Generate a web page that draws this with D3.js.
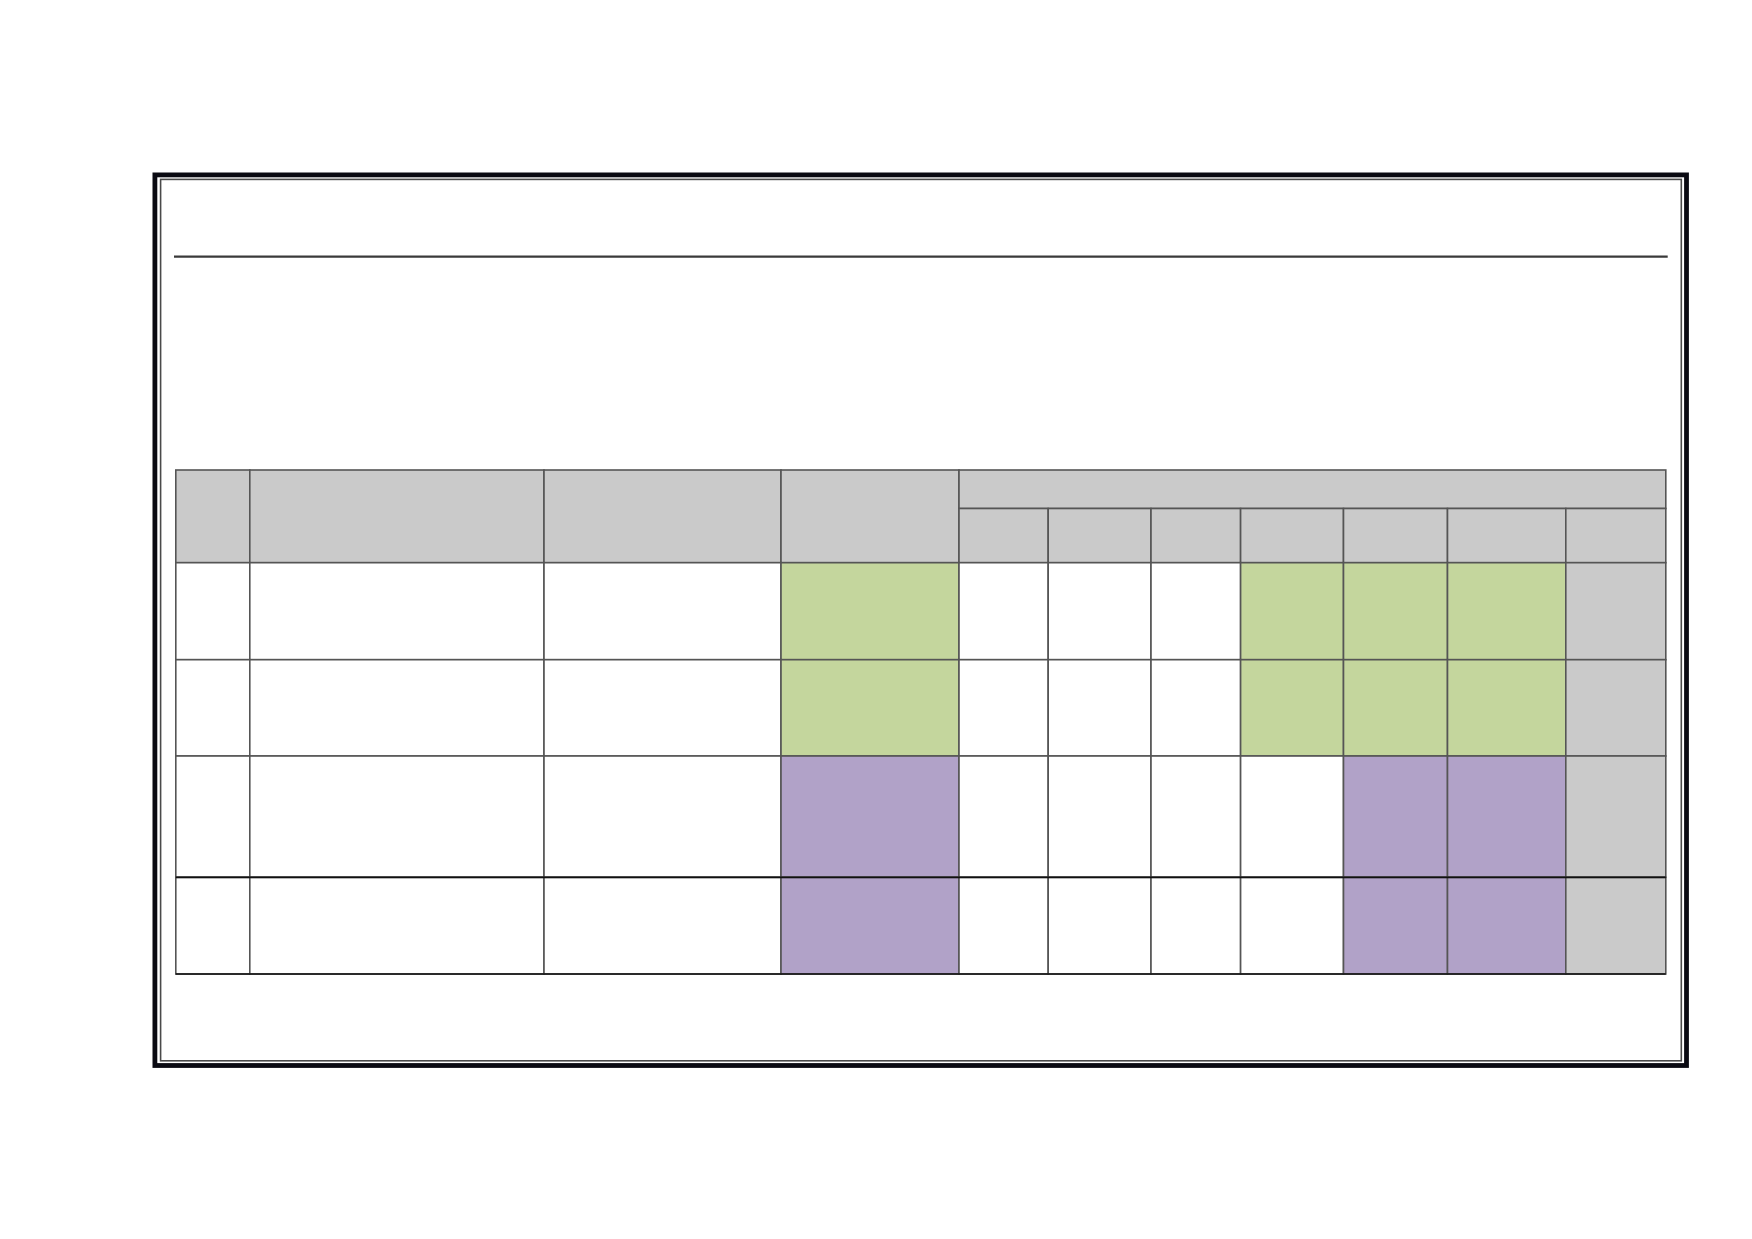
<!DOCTYPE html>
<html>
<head>
<meta charset="utf-8">
<script src="https://cdn.jsdelivr.net/npm/d3@7"></script>
<style>
  html, body { margin: 0; padding: 0; background: #fff; }
  svg { display: block; }
</style>
</head>
<body>
<div id="chart"></div>
<script>
// data: table with 4 body rows; 4 fixed columns + 7 grouped columns, no text
const rowKeys = ["r1", "r2", "r3", "r4"];
const fixedKeys = ["no", "item", "desc", "status"];
const groupKeys = ["g1", "g2", "g3", "g4", "g5", "g6", "g7"];

// cell state per row: status column, then the 7 grouped columns
// "G" green, "P" purple, "N" grey, "" blank
const statusCol = ["G", "G", "P", "P"];
const groupCells = [
  ["", "", "", "G", "G", "G", "N"],
  ["", "", "", "G", "G", "G", "N"],
  ["", "", "", "", "P", "P", "N"],
  ["", "", "", "", "P", "P", "N"]
];

// layout
const width = 1752, height = 1239;
const colKeys = fixedKeys.concat(groupKeys);
const colEdges = [175.8, 249.8, 544, 781, 959, 1048.2, 1151, 1240.6, 1343.5, 1447.5, 1565.8, 1665.8];
const rowEdges = [659.7, 756, 877.3, 974];
const headTop = 470, headMid = 508.5, headBottom = 562.7;

const x0 = d3.scaleOrdinal().domain(colKeys).range(colEdges.slice(0, -1));
const x1 = d3.scaleOrdinal().domain(colKeys).range(colEdges.slice(1));
const y0 = d3.scaleOrdinal().domain(rowKeys).range([headBottom].concat(rowEdges.slice(0, -1)));
const y1 = d3.scaleOrdinal().domain(rowKeys).range(rowEdges);

const fill = d3.scaleOrdinal()
  .domain(["G", "P", "N", ""])
  .range(["#c4d69d", "#b1a2c8", "#cacaca", "#ffffff"]);

const svg = d3.select("#chart")
  .append("svg")
  .attr("width", width)
  .attr("height", height);

//frame
svg.append("rect")
  .attr("x", 154.9).attr("y", 174.9)
  .attr("width", 1686.5 - 154.9).attr("height", 1065.5 - 174.9)
  .attr("fill", "none").attr("stroke", "#0a0a12").attr("stroke-width", 4.8);
svg.append("rect")
  .attr("x", 160.6).attr("y", 179.4)
  .attr("width", 1681.3 - 160.6).attr("height", 1060.8 - 179.4)
  .attr("fill", "none").attr("stroke", "#4a4a4a").attr("stroke-width", 1.6);

//rule under the (empty) title
svg.append("line")
  .attr("x1", 174).attr("x2", 1667.7)
  .attr("y1", 256.7).attr("y2", 256.7)
  .attr("stroke", "#3a3a3a").attr("stroke-width", 2.2);

const cellStroke = "#555";
const cellWidth = 1.6;

//header cells
const head = svg.append("g");
head.selectAll("rect.fixed")
  .data(fixedKeys)
  .enter()
  .append("rect")
  .attr("class", "fixed")
  .attr("x", d => x0(d))
  .attr("y", headTop)
  .attr("width", d => x1(d) - x0(d))
  .attr("height", headBottom - headTop)
  .attr("fill", fill("N"))
  .attr("stroke", cellStroke).attr("stroke-width", cellWidth);

head.append("rect")
  .attr("x", x0(groupKeys[0]))
  .attr("y", headTop)
  .attr("width", x1(groupKeys[groupKeys.length - 1]) - x0(groupKeys[0]))
  .attr("height", headMid - headTop)
  .attr("fill", fill("N"))
  .attr("stroke", cellStroke).attr("stroke-width", cellWidth);

head.selectAll("rect.sub")
  .data(groupKeys)
  .enter()
  .append("rect")
  .attr("class", "sub")
  .attr("x", d => x0(d))
  .attr("y", headMid)
  .attr("width", d => x1(d) - x0(d))
  .attr("height", headBottom - headMid)
  .attr("fill", fill("N"))
  .attr("stroke", cellStroke).attr("stroke-width", cellWidth);

//body cells
const cells = [];
rowKeys.forEach((r, i) => {
  fixedKeys.forEach(c => cells.push({ row: r, col: c, v: c === "status" ? statusCol[i] : "" }));
  groupKeys.forEach((c, j) => cells.push({ row: r, col: c, v: groupCells[i][j] }));
});

svg.append("g").selectAll("rect")
  .data(cells)
  .enter()
  .append("rect")
  .attr("x", d => x0(d.col))
  .attr("y", d => y0(d.row))
  .attr("width", d => x1(d.col) - x0(d.col))
  .attr("height", d => y1(d.row) - y0(d.row))
  .attr("fill", d => fill(d.v))
  .attr("stroke", cellStroke).attr("stroke-width", cellWidth);

//darker lines at the lower rows
svg.append("g").selectAll("line")
  .data([rowEdges[2], rowEdges[3]])
  .enter()
  .append("line")
  .attr("x1", colEdges[0]).attr("x2", colEdges[colEdges.length - 1])
  .attr("y1", d => d).attr("y2", d => d)
  .attr("stroke", "#111").attr("stroke-width", 1.7);
</script>
</body>
</html>
